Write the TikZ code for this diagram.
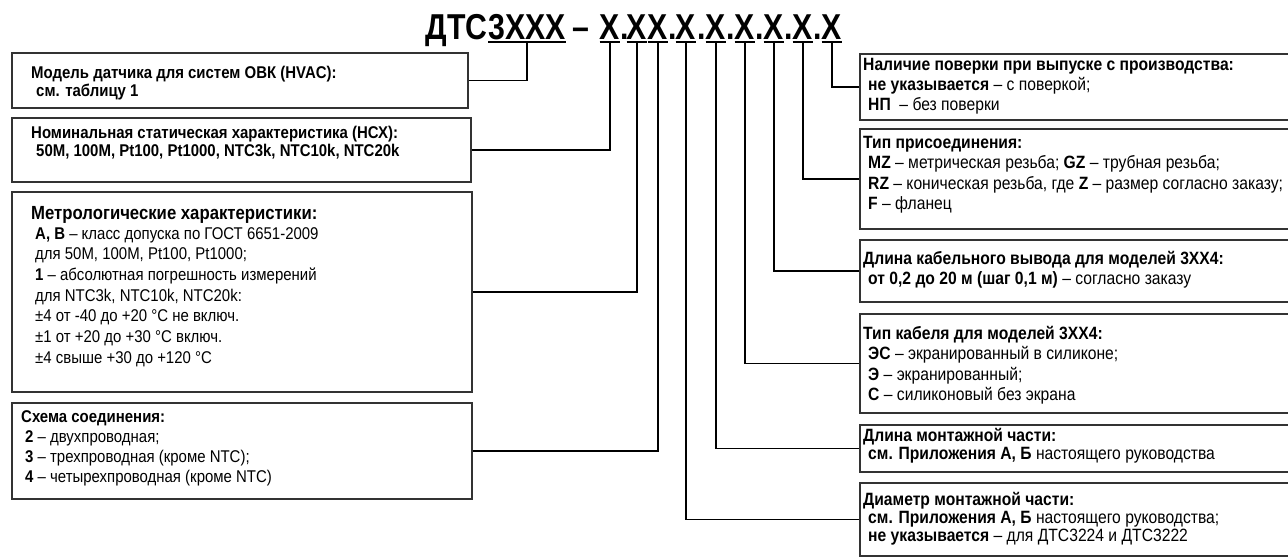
\documentclass[tikz,border=0pt]{standalone}
\usepackage{fontspec}
\setmainfont[FakeStretch=0.88]{Liberation Sans}
\newfontfamily\ttlfont[FakeStretch=0.84]{Liberation Sans}
\begin{document}
\begin{tikzpicture}[x=1pt,y=-1pt,
  box/.style={draw=black!80, line width=1.3pt, inner sep=0pt},
  link/.style={line width=1.4pt},
  txt/.style={anchor=base west, inner sep=0pt, align=left, font=\fontsize{17}{18.3}\selectfont},
  rtxt/.style={txt, font=\fontsize{17.8}{20}\selectfont},
  ttl/.style={anchor=base, inner sep=0pt, font=\ttlfont\bfseries\fontsize{36}{40}\selectfont}]
\useasboundingbox (0,0) rectangle (1288,557);
% code title
\node[ttl, anchor=base east] (dts) at (488,39) {ДТС};
\node[ttl] (x0) at (527,39) {3XXX};
\node[ttl] (dash) at (581,39) {–};
\node[ttl] (x1) at (610,39) {X};
\node[ttl] (d1) at (625,39) {.};
\node[ttl] (x2) at (637,39) {X};
\node[ttl] (x3) at (658,39) {X};
\node[ttl] (d2) at (673,39) {.};
\node[ttl] (x4) at (686,39) {X};
\node[ttl] (d3) at (702,39) {.};
\node[ttl] (x5) at (716,39) {X};
\node[ttl] (d4) at (731,39) {.};
\node[ttl] (x6) at (745,39) {X};
\node[ttl] (d5) at (760,39) {.};
\node[ttl] (x7) at (774,39) {X};
\node[ttl] (d6) at (789,39) {.};
\node[ttl] (x8) at (803,39) {X};
\node[ttl] (d7) at (818,39) {.};
\node[ttl] (x9) at (832,39) {X};
\coordinate (u0) at ([yshift=-3pt]x0.base);
\coordinate (u1) at ([yshift=-3pt]x1.base);
\coordinate (u2) at ([yshift=-3pt]x2.base);
\coordinate (u3) at ([yshift=-3pt]x3.base);
\coordinate (u4) at ([yshift=-3pt]x4.base);
\coordinate (u5) at ([yshift=-3pt]x5.base);
\coordinate (u6) at ([yshift=-3pt]x6.base);
\coordinate (u7) at ([yshift=-3pt]x7.base);
\coordinate (u8) at ([yshift=-3pt]x8.base);
\coordinate (u9) at ([yshift=-3pt]x9.base);
\draw[link] (u0 -| x0.west) -- (u0 -| x0.east);
\draw[link] (u1 -| x1.west) -- (u1 -| x1.east);
\draw[link] (u2 -| x2.west) -- (u2 -| x2.east);
\draw[link] (u3 -| x3.west) -- (u3 -| x3.east);
\draw[link] (u4 -| x4.west) -- (u4 -| x4.east);
\draw[link] (u5 -| x5.west) -- (u5 -| x5.east);
\draw[link] (u6 -| x6.west) -- (u6 -| x6.east);
\draw[link] (u7 -| x7.west) -- (u7 -| x7.east);
\draw[link] (u8 -| x8.west) -- (u8 -| x8.east);
\draw[link] (u9 -| x9.west) -- (u9 -| x9.east);
% left boxes (text nodes sit on the baseline of their last line)
\node[box, minimum width=456pt, minimum height=55pt] (model) at (240,80.5) {};
\node[txt] (modelt) at (31,96.3) {\textbf{Модель датчика для систем ОВК (HVAC):}\\
  \hspace*{5pt}\textbf{см. таблицу 1}};
\node[box, minimum width=459pt, minimum height=64pt] (nsx) at (241.5,150) {};
\node[txt] (nsxt) at (31,156.3) {\textbf{Номинальная статическая характеристика (НСХ):}\\
  \hspace*{5pt}\textbf{50M, 100M, Pt100, Pt1000, NTC3k, NTC10k, NTC20k}};
\node[box, minimum width=460pt, minimum height=200pt] (metro) at (242,292) {};
\node[txt, font=\fontsize{19}{20.7}\selectfont] (metroh) at (31,219) {\textbf{Метрологические характеристики:}};
\node[txt, font=\fontsize{17}{20.7}\selectfont] (metrot) at (35,363.2) {\textbf{А, В} – класс допуска по ГОСТ 6651-2009\\
  для 50M, 100M, Pt100, Pt1000;\\
  \textbf{1} – абсолютная погрешность измерений\\
  для NTC3k, NTC10k, NTC20k:\\
  ±4 от -40 до +20 °C не включ.\\
  ±1 от +20 до +30 °C включ.\\
  ±4 свыше +30 до +120 °C};
\node[box, minimum width=460pt, minimum height=96pt] (scheme) at (242,451) {};
\node[txt, font=\fontsize{17}{20}\selectfont] (schemet) at (21,482) {\textbf{Схема соединения:}\\
  \hspace*{4pt}\textbf{2} – двухпроводная;\\
  \hspace*{4pt}\textbf{3} – трехпроводная (кроме NTC);\\
  \hspace*{4pt}\textbf{4} – четырехпроводная (кроме NTC)};
% right boxes
\node[box, minimum width=435pt, minimum height=66pt] (verif) at (1077.5,87) {};
\node[rtxt] (verift) at (863,110) {\textbf{Наличие поверки при выпуске с производства:}\\
  \hspace*{5pt}\textbf{не указывается} – с поверкой;\\
  \hspace*{5pt}\textbf{НП}\ \ – без поверки};
\node[box, minimum width=435pt, minimum height=100pt] (conn) at (1077.5,179) {};
\node[rtxt, font=\fontsize{17.8}{20.5}\selectfont] (connt) at (863,209.5) {\textbf{Тип присоединения:}\\
  \hspace*{5pt}\textbf{MZ} – метрическая резьба; \textbf{GZ} – трубная резьба;\\
  \hspace*{5pt}\textbf{RZ} – коническая резьба, где \textbf{Z} – размер согласно заказу;\\
  \hspace*{5pt}\textbf{F} – фланец};
\node[box, minimum width=435pt, minimum height=62pt] (cablen) at (1077.5,271) {};
\node[rtxt] (cablent) at (863,284) {\textbf{Длина кабельного вывода для моделей 3XX4:}\\
  \hspace*{5pt}\textbf{от 0,2 до 20 м (шаг 0,1 м)} – согласно заказу};
\node[box, minimum width=435pt, minimum height=99pt] (cabtype) at (1077.5,363.5) {};
\node[rtxt, font=\fontsize{17.8}{20.5}\selectfont] (cabtypet) at (863,400.5) {\textbf{Тип кабеля для моделей 3XX4:}\\
  \hspace*{5pt}\textbf{ЭС} – экранированный в силиконе;\\
  \hspace*{5pt}\textbf{Э} – экранированный;\\
  \hspace*{5pt}\textbf{С} – силиконовый без экрана};
\node[box, minimum width=435pt, minimum height=47pt] (mlen) at (1077.5,448.5) {};
\node[rtxt, font=\fontsize{17.8}{18.3}\selectfont] (mlent) at (863,459.3) {\textbf{Длина монтажной части:}\\
  \hspace*{5pt}\textbf{см. Приложения А, Б} настоящего руководства};
\node[box, minimum width=435pt, minimum height=73pt] (mdiam) at (1077.5,519.5) {};
\node[rtxt, font=\fontsize{17.8}{18.3}\selectfont] (mdiamt) at (863,541.6) {\textbf{Диаметр монтажной части:}\\
  \hspace*{5pt}\textbf{см. Приложения А, Б} настоящего руководства;\\
  \hspace*{5pt}\textbf{не указывается} – для ДТС3224 и ДТС3222};
% connectors
\draw[link] (u0) |- (model.east);
\draw[link] (u1) |- (nsx.east);
\draw[link] (u2) |- (metro.east);
\draw[link] (u3) |- (scheme.east);
\draw[link] (u4) |- (mdiam.west);
\draw[link] (u5) |- (mlen.west);
\draw[link] (u6) |- (cabtype.west);
\draw[link] (u7) |- (cablen.west);
\draw[link] (u8) |- (conn.west);
\draw[link] (u9) |- (verif.west);
\end{tikzpicture}
\end{document}
